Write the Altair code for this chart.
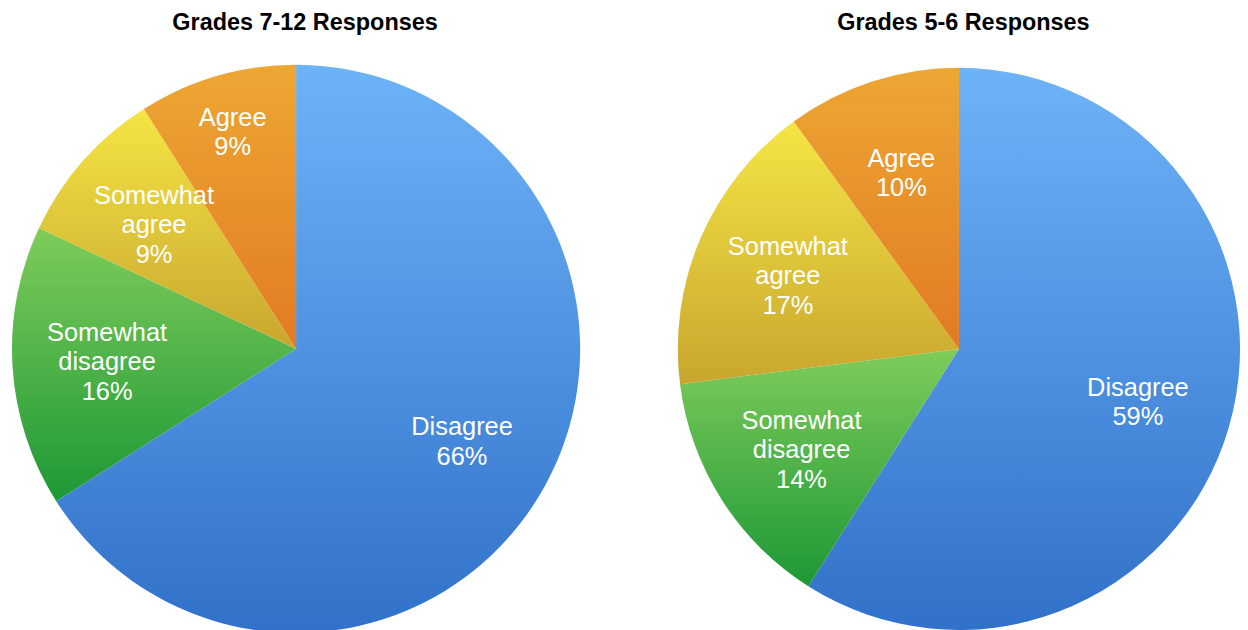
import altair as alt
import pandas as pd

categories = ["Disagree", "Somewhat disagree", "Somewhat agree", "Agree"]
grades_7_12 = [66, 16, 9, 9]
grades_5_6 = [59, 14, 17, 10]
titles = ["Grades 7-12 Responses", "Grades 5-6 Responses"]

# top / bottom colours of each slice's vertical gradient
gradient_colors = {
    "Disagree": ("#6db3f8", "#3171c9"),
    "Somewhat disagree": ("#7fcc5a", "#1d9836"),
    "Somewhat agree": ("#f5e545", "#c8a62e"),
    "Agree": ("#eda733", "#e27a24"),
}


def grad(top, bottom):
    return {
        "gradient": "linear",
        "x1": 0, "y1": 0, "x2": 0, "y2": 1,
        "stops": [{"offset": 0, "color": top}, {"offset": 1, "color": bottom}],
    }


conds = [
    {"test": f"datum.category === '{c}'", "value": grad(*gradient_colors[c])}
    for c in categories[:-1]
]
fill = alt.ColorValue(value=grad(*gradient_colors[categories[-1]]), condition=conds)


def pie(values, title, width, radius, title_dx, label_r, agree_r):
    df = pd.DataFrame({
        "category": categories,
        "value": values,
        "order": list(range(len(categories))),
    })
    base = alt.Chart(df).encode(
        theta=alt.Theta("value:Q", stack=True),
        order=alt.Order("order:Q", sort="ascending"),
        detail=alt.Detail("category:N"),
    )
    arcs = base.mark_arc(radius=radius, stroke=None).encode(color=fill)
    text = base.transform_calculate(
        label="replace(datum.category, ' ', '\\n') + '\\n' + datum.value + '%'",
    ).mark_text(
        fontSize=25.5, lineHeight=29.5, lineBreak="\n", color="white",
        font="Liberation Sans", align="center", baseline="middle",
        radius=alt.expr(f"datum.category === 'Agree' ? {agree_r} : {label_r}"),
        dy=alt.expr("indexof(datum.category, ' ') >= 0 ? -28 : -13"),
    ).encode(
        text="label:N",
    )
    return alt.layer(arcs, text).properties(
        width=width, height=570,
        title=alt.TitleParams(
            title, fontSize=23.5, fontWeight="bold", font="Liberation Sans",
            color="black", offset=30.5, dx=title_dx, anchor="middle",
        ),
    )


chart = alt.hconcat(
    pie(grades_7_12, titles[0], 570, 285, 9, 190, 228),
    pie(grades_5_6, titles[1], 560, 282, 4.5, 187, 187),
    spacing=98,
).properties(
    padding={"left": 4, "top": 2, "right": 0, "bottom": 0},
).configure_view(stroke=None).configure(background="white")

chart.save("out.html", embed_options={"renderer": "svg", "actions": False})
